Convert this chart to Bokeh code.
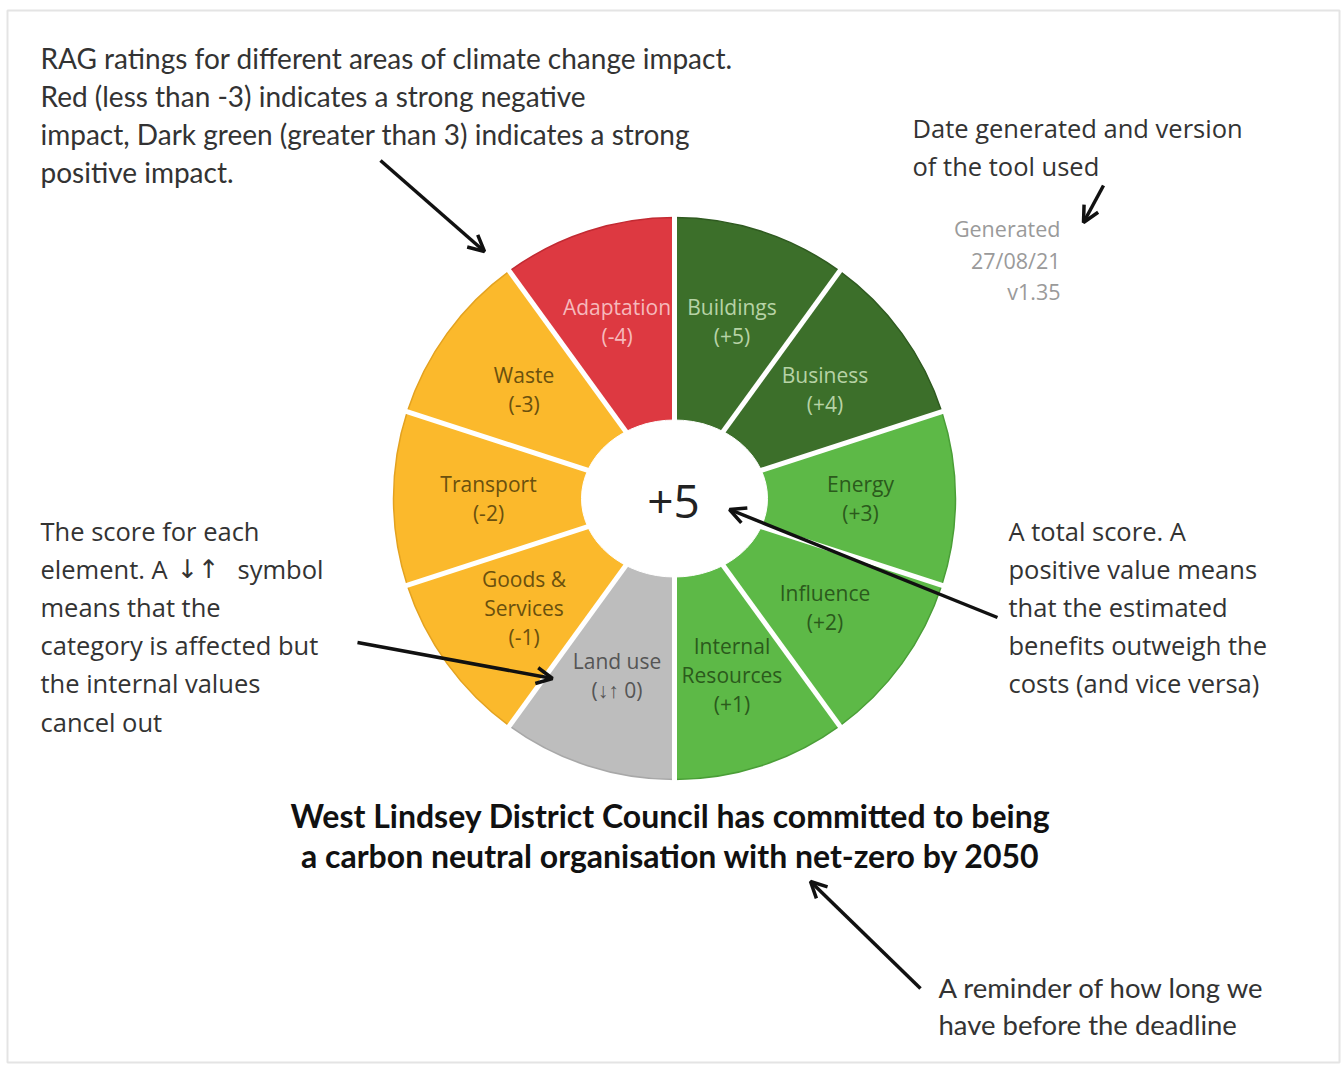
import math
from bokeh.plotting import figure
from bokeh.models import Range1d, ColumnDataSource, Arrow, OpenHead
from bokeh.core.properties import value
from bokeh.embed import file_html
from bokeh.resources import INLINE

# ---------------- data ----------------
categories = ["Buildings", "Business", "Energy", "Influence", "Internal\nResources",
              "Land use", "Goods &\nServices", "Transport", "Waste", "Adaptation"]
scores = [5, 4, 3, 2, 1, 0, -1, -2, -3, -4]
score_labels = ["(+5)", "(+4)", "(+3)", "(+2)", "(+1)", "(\u2193\u2191 0)", "(-1)", "(-2)", "(-3)", "(-4)"]

note_rag = ["RAG ratings for different areas of climate change impact.",
            "Red (less than -3) indicates a strong negative",
            "impact, Dark green (greater than 3) indicates a strong",
            "positive impact."]
note_date = ["Date generated and version", "of the tool used"]
generated = ["Generated", "27/08/21", "v1.35"]
note_score = ["The score for each", ["element. A", "\u2193\u2191", "symbol"], "means that the",
              "category is affected but", "the internal values", "cancel out"]
note_total = ["A total score. A", "positive value means", "that the estimated",
              "benefits outweigh the", "costs (and vice versa)"]
commitment = ["West Lindsey District Council has committed to being",
              "a carbon neutral organisation with net-zero by 2050"]
note_deadline = ["A reminder of how long we", "have before the deadline"]

# ---------------- layout helpers ----------------
W, H = 1344, 1068
def Y(sy):  # screen y -> data y
    return H - sy

p = figure(width=W, height=H, x_range=Range1d(0, W), y_range=Range1d(0, H),
           output_backend="svg", toolbar_location=None, min_border=0,
           x_axis_type=None, y_axis_type=None)
p.grid.visible = False
p.outline_line_color = None
p.background_fill_color = "white"
p.border_fill_color = "white"

# faint frame
p.quad(left=[7], right=[1339], bottom=[Y(1062)], top=[Y(10)], fill_color=None,
       line_color="#e4e4e4", line_width=2)

# ---------------- donut ----------------
def rag_color(v):
    if v > 3:
        return "#3c6f2a"
    if v > 0:
        return "#5db947"
    if v == 0:
        return "#bdbdbd"
    if v >= -3:
        return "#fbb92c"
    return "#dd3941"

def rag_edge(v):
    if v > 3:
        return "#2f5a20"
    if v > 0:
        return "#4a9e37"
    if v == 0:
        return "#a8a8a8"
    if v >= -3:
        return "#e3a220"
    return "#c22a32"

def rag_text(v):
    if v > 3:
        return "#b7d3a6"
    if v > 0:
        return "#2b5a1c"
    if v == 0:
        return "#555555"
    if v >= -3:
        return "#6a500e"
    return "#f6b9bc"

cx, cy = 674, Y(498)
n = len(categories)
step = 360.0 / n
ends = [90 - step * i for i in range(n)]
starts = [e - step for e in ends]
src = ColumnDataSource(dict(
    start=[math.radians(s) for s in starts],
    end=[math.radians(e) for e in ends],
    fill=[rag_color(v) for v in scores],
    edge=[rag_edge(v) for v in scores],
))
p.wedge(x=cx, y=cy, radius=281, radius_units="screen", start_angle="start", end_angle="end",
        fill_color="fill", line_color="edge", line_width=1.5, source=src)
# white separators between the segments
p.ray(x=[cx] * n, y=[cy] * n, length=300, length_units="screen",
      angle=[math.radians(e) for e in ends], line_color="white", line_width=5)
# white centre
p.ellipse(x=[cx], y=[cy], width=186, height=157, fill_color="white", line_color="white")

# segment labels
lx, ly, lt, lc = [], [], [], []
r_lab = 186
for i in range(n):
    mid = math.radians((starts[i] + ends[i]) / 2)
    mx = cx + r_lab * math.cos(mid)
    my = cy + r_lab * math.sin(mid)
    lines = categories[i].split("\n") + [score_labels[i]]
    k = len(lines)
    for j, t in enumerate(lines):
        lx.append(mx)
        ly.append(my + (k - 1) * 14.5 - j * 29)
        lt.append(t)
        lc.append(rag_text(scores[i]))
p.text(x=lx, y=ly, text=lt, text_color=lc, text_align="center", text_baseline="middle",
       text_font=value("Open Sans"), text_font_size="21px")

total = sum(scores)
p.text(x=[cx - 1], y=[Y(501)], text=[("+" if total > 0 else "") + str(total)], text_color="#222222",
       text_align="center", text_baseline="middle", text_font=value("Open Sans"), text_font_size="46px")

# ---------------- annotations ----------------
def block(lines, x, y0, dy, font, size, color="#333333", align="left", style="normal"):
    for i, line in enumerate(lines):
        if isinstance(line, list):
            # text, arrow symbols (DejaVu Sans), text
            xs = [x, x + 136, x + 197]
            fonts = [font, "DejaVu Sans", font]
            for xx, t, f in zip(xs, line, fonts):
                p.text(x=[xx], y=[Y(y0 + dy * i)], text=[t], text_color=color, text_align=align,
                       text_baseline="middle", text_font=value(f), text_font_size=size,
                       text_font_style=style)
            continue
        p.text(x=[x], y=[Y(y0 + dy * i)], text=[line],
               text_color=color, text_align=align, text_baseline="middle",
               text_font=value(font), text_font_size=size, text_font_style=style)

block(note_rag, 40, 57, 38, "Lato", "28px")
block(note_date, 912, 127, 38, "Open Sans", "25.5px")
block(generated, 1060, 228, 31.5, "Open Sans", "21.5px", color="#9a9a9a", align="right")
block(note_score, 40, 530, 38.2, "Open Sans", "25.5px")
block(note_total, 1008, 530, 38.2, "Open Sans", "25.5px")
block(commitment, 670, 815, 40, "Lato", "32px", color="#111111", align="center", style="bold")
block(note_deadline, 938, 987, 37, "Lato", "27.5px")

# arrows
arrows = [((380, 160), (484, 251)),
          ((1103, 185), (1083, 222)),
          ((357, 642), (552, 678)),
          ((997, 617), (729, 509)),
          ((920, 988), (810, 881))]
for (x0, y0), (x1, y1) in arrows:
    p.add_layout(Arrow(x_start=x0, y_start=Y(y0), x_end=x1, y_end=Y(y1),
                       line_color="#111111", line_width=3.5,
                       end=OpenHead(size=16, line_color="#111111", line_width=3.5)))

open("out.html", "w").write(file_html(p, INLINE))
